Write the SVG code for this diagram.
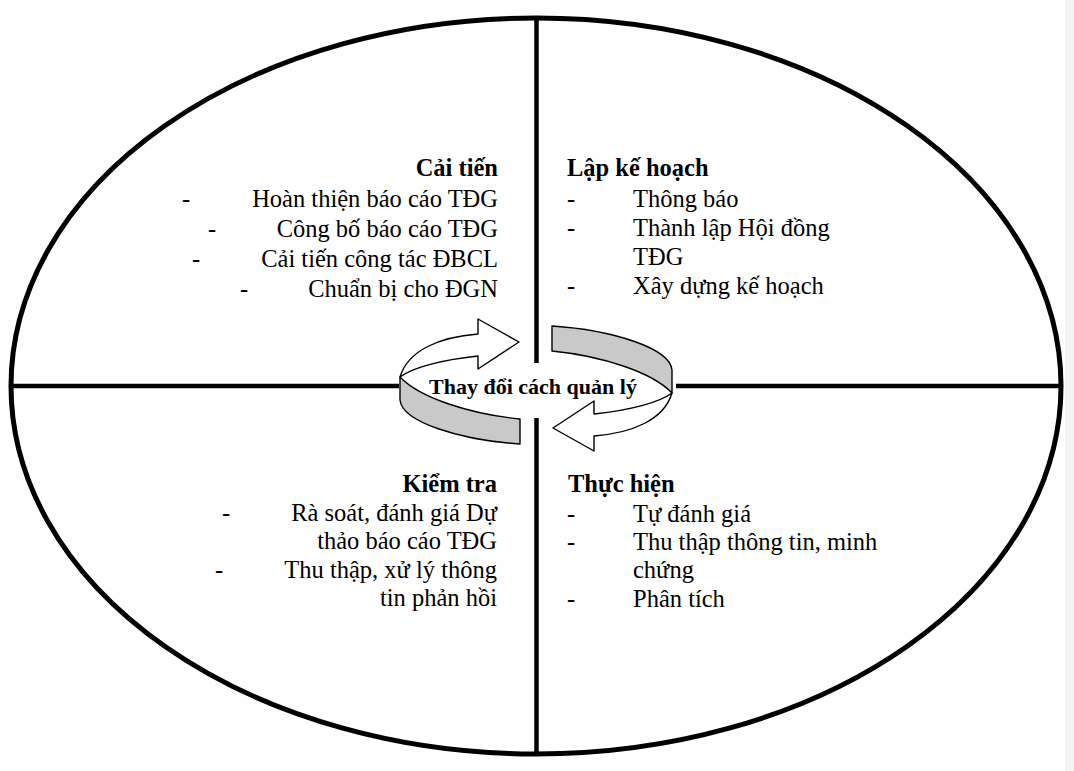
<svg xmlns="http://www.w3.org/2000/svg" width="1074" height="771" viewBox="0 0 1074 771">
<style>
  .t { font-family: "Liberation Serif", "Times New Roman", serif; font-size: 24.5px; fill: #000; }
  .b { font-weight: bold; }
  .e { text-anchor: end; }
  .frame { fill: none; stroke: #000; }
  .band { stroke: #000; stroke-width: 1.4; stroke-linejoin: round; }
  .white { fill: #fff; }
  .gray { fill: #c9c9c9; }
</style>
<rect x="0" y="0" width="1074" height="771" fill="#fff"/>
<rect x="1065" y="0" width="9" height="771" fill="#f3f3f3"/>

<g id="connectors">
  <ellipse class="frame" cx="536" cy="386" rx="525" ry="368" stroke-width="5"/>
  <line class="frame" x1="536.5" y1="18" x2="536.5" y2="363" stroke-width="4.5"/>
  <line class="frame" x1="536.5" y1="418" x2="536.5" y2="754" stroke-width="4.5"/>
  <line class="frame" x1="11" y1="386" x2="399" y2="386" stroke-width="4.5"/>
  <line class="frame" x1="676" y1="386" x2="1061" y2="386" stroke-width="4.5"/>
</g>

<g id="cycle-arrow">
  <g id="arrow-left">
    <path class="band gray" d="M400,377 L400,400 C402,422 460,440 520,444 L520,419 C470,414 420,398 400,377 Z"/>
    <path class="band white" d="M400,377 C408,350 440,337 478,334 L478,319 L519,342 L478,369 L478,356 C440,360 412,368 400,377 Z"/>
  </g>
  <g id="arrow-right" transform="rotate(180 536 385)">
    <path class="band gray" d="M400,377 L400,400 C402,422 460,440 520,444 L520,419 C470,414 420,398 400,377 Z"/>
    <path class="band white" d="M400,377 C408,350 440,337 478,334 L478,319 L519,342 L478,369 L478,356 C440,360 412,368 400,377 Z"/>
  </g>
  <text class="t b" x="533" y="394" text-anchor="middle" style="font-size:22px">Thay đổi cách quản lý</text>
</g>

<g id="cai-tien">
  <text class="t b e" x="498" y="176">Cải tiến</text>
  <text class="t" x="182" y="207">-</text>
  <text class="t e" x="498" y="207">Hoàn thiện báo cáo TĐG</text>
  <text class="t" x="208" y="237">-</text>
  <text class="t e" x="498" y="237">Công bố báo cáo TĐG</text>
  <text class="t" x="192" y="267">-</text>
  <text class="t e" x="498" y="267">Cải tiến công tác ĐBCL</text>
  <text class="t" x="240" y="297">-</text>
  <text class="t e" x="498" y="297">Chuẩn bị cho ĐGN</text>
</g>

<g id="lap-ke-hoach">
  <text class="t b" x="567" y="176">Lập kế hoạch</text>
  <text class="t" x="567" y="207">-</text>
  <text class="t" x="633" y="207">Thông báo</text>
  <text class="t" x="567" y="236">-</text>
  <text class="t" x="633" y="236">Thành lập Hội đồng</text>
  <text class="t" x="633" y="265">TĐG</text>
  <text class="t" x="567" y="294">-</text>
  <text class="t" x="633" y="294">Xây dựng kế hoạch</text>
</g>

<g id="kiem-tra">
  <text class="t b e" x="497" y="492">Kiểm tra</text>
  <text class="t" x="222" y="521">-</text>
  <text class="t e" x="497" y="521">Rà soát, đánh giá Dự</text>
  <text class="t e" x="497" y="549">thảo báo cáo TĐG</text>
  <text class="t" x="215" y="578">-</text>
  <text class="t e" x="497" y="578">Thu thập, xử lý thông</text>
  <text class="t e" x="497" y="606">tin phản hồi</text>
</g>

<g id="thuc-hien">
  <text class="t b" x="568" y="492">Thực hiện</text>
  <text class="t" x="567" y="522">-</text>
  <text class="t" x="633" y="522">Tự đánh giá</text>
  <text class="t" x="567" y="550">-</text>
  <text class="t" x="633" y="550">Thu thập thông tin, minh</text>
  <text class="t" x="633" y="578">chứng</text>
  <text class="t" x="567" y="607">-</text>
  <text class="t" x="633" y="607">Phân tích</text>
</g>
</svg>
